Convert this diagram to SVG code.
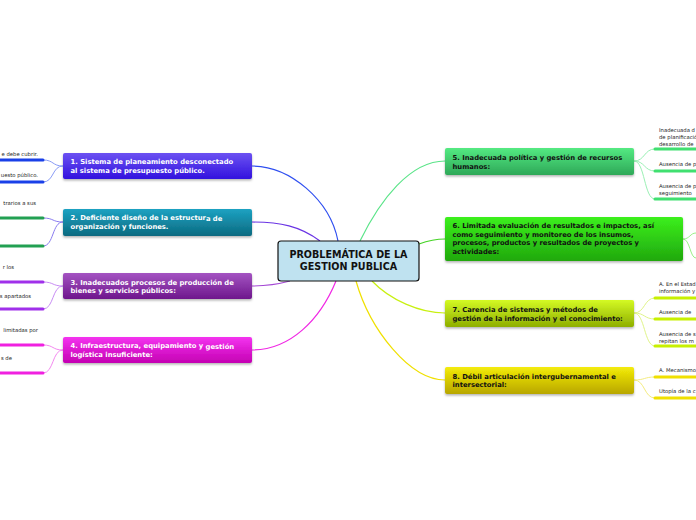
<svg xmlns="http://www.w3.org/2000/svg" width="696" height="520" viewBox="0 0 696 520">
<defs>
<linearGradient id="g1" x1="0" y1="0" x2="0" y2="1"><stop offset="0" stop-color="#6c52f2"/><stop offset="1" stop-color="#3212de"/></linearGradient>
<linearGradient id="g2" x1="0" y1="0" x2="0" y2="1"><stop offset="0" stop-color="#1ca2c2"/><stop offset="1" stop-color="#0c6a80"/></linearGradient>
<linearGradient id="g3" x1="0" y1="0" x2="0" y2="1"><stop offset="0" stop-color="#a454c2"/><stop offset="1" stop-color="#6e168c"/></linearGradient>
<linearGradient id="g4" x1="0" y1="0" x2="0" y2="1"><stop offset="0" stop-color="#f434f0"/><stop offset="1" stop-color="#c400b2"/></linearGradient>
<linearGradient id="g5" x1="0" y1="0" x2="0" y2="1"><stop offset="0" stop-color="#54ea82"/><stop offset="1" stop-color="#2ea858"/></linearGradient>
<linearGradient id="g6" x1="0" y1="0" x2="0" y2="1"><stop offset="0" stop-color="#3cf01c"/><stop offset="1" stop-color="#20a80e"/></linearGradient>
<linearGradient id="g7" x1="0" y1="0" x2="0" y2="1"><stop offset="0" stop-color="#d4fa24"/><stop offset="1" stop-color="#8eae00"/></linearGradient>
<linearGradient id="g8" x1="0" y1="0" x2="0" y2="1"><stop offset="0" stop-color="#f4ec08"/><stop offset="1" stop-color="#b8a600"/></linearGradient>
<filter id="sh" x="-5%" y="-20%" width="110%" height="150%"><feDropShadow dx="0" dy="1.5" stdDeviation="1.2" flood-color="#000" flood-opacity="0.3"/></filter>
</defs>
<style>
.node rect{filter:url(#sh)}
.t{font-family:"DejaVu Sans",Verdana,sans-serif;font-weight:bold;font-size:6.8px}
.w{fill:#ffffff}
.k{fill:#111111}
.c{font-family:"DejaVu Sans",Verdana,sans-serif;font-size:5.3px;fill:#222222}
.cn{fill:none;stroke-width:1}
.ln{fill:none;stroke-width:3;stroke-linecap:round}
.main{fill:none;stroke-width:1.2}
</style>
<rect width="696" height="520" fill="#ffffff"/>
<g id="connectors">
<path class="main" stroke="#2f4ff0" d="M338,241 C330,200 290,166 252,166"/>
<path class="main" stroke="#6a34e4" d="M320,241 C300,226 280,222 252,222"/>
<path class="main" stroke="#a448d4" d="M290,281 C275,285 265,286 252,286"/>
<path class="main" stroke="#f028e4" d="M336,281 C320,320 290,350 252,350"/>
<path class="main" stroke="#5ae488" d="M360,241 C380,200 410,161 445,161"/>
<path class="main" stroke="#44d424" d="M419,244 C430,240 435,239 445,239"/>
<path class="main" stroke="#c8f010" d="M372,281 C390,300 420,313 445,313"/>
<path class="main" stroke="#f0e000" d="M356,281 C370,330 410,380 445,380"/>
<path class="cn" stroke="#8a9cf6" d="M63,166 C52,166 54,160 43,160 M63,166 C52,166 54,182 43,182"/>
<path class="ln" stroke="#1a40e8" d="M0,160 L43,160 M0,182 L43,182"/>
<path class="cn" stroke="#8a7cf0" d="M63,222 C52,222 54,218 43,218 M63,222 C52,222 54,246 43,246"/>
<path class="ln" stroke="#22a052" d="M0,218 L43,218 M0,246 L43,246"/>
<path class="cn" stroke="#c88cf4" d="M63,286 C52,286 54,282 43,282 M63,286 C52,286 54,309 43,309"/>
<path class="ln" stroke="#a030ea" d="M0,282 L43,282 M0,309 L43,309"/>
<path class="cn" stroke="#f488f0" d="M63,350 C52,350 54,345 43,345 M63,350 C52,350 54,373 43,373"/>
<path class="ln" stroke="#f020e0" d="M0,345 L43,345 M0,373 L43,373"/>
<path class="cn" stroke="#9af0b4" d="M634,161 C645,161 644,149 655,149 M634,161 C645,161 644,171 655,171 M634,161 C645,161 644,199 655,199"/>
<path class="ln" stroke="#40e070" d="M655,149 L696,149 M655,171 L696,171 M655,199 L696,199"/>
<path class="cn" stroke="#9af088" d="M683,239 C690,239 690,233 696,233 M683,239 C690,239 690,258 696,258"/>
<path class="cn" stroke="#e0f488" d="M634,313 C645,313 644,298 655,298 M634,313 C645,313 644,319 655,319 M634,313 C645,313 644,346 655,346"/>
<path class="ln" stroke="#c8f000" d="M655,298 L696,298 M655,319 L696,319 M655,346 L696,346"/>
<path class="cn" stroke="#f4ec80" d="M634,380 C645,380 644,377 655,377 M634,380 C645,380 644,398 655,398"/>
<path class="ln" stroke="#f0e000" d="M655,377 L696,377 M655,398 L696,398"/>
</g>
<g id="center">
<rect x="278" y="241" width="141" height="40" rx="3" fill="#bfe2f0" stroke="#111111" stroke-width="1.2"/>
<text x="348.5" y="257.5" text-anchor="middle" font-family="DejaVu Sans, sans-serif" font-weight="bold" font-size="9.6" fill="#111111">PROBLEMÁTICA DE LA</text>
<text x="348.5" y="270" text-anchor="middle" font-family="DejaVu Sans, sans-serif" font-weight="bold" font-size="9.6" fill="#111111">GESTION PUBLICA</text>
</g>
<g id="node1" class="node">
<rect x="63" y="153" width="189" height="26" rx="2" fill="url(#g1)"/>
<text class="t w" x="70.5" y="163.5">1. Sistema de planeamiento descon<tspan dy="0.8">ectado</tspan></text>
<text class="t w" x="70.5" y="172.5">al sistema de presupuesto público.</text>
</g>
<g id="node2" class="node">
<rect x="63" y="209" width="189" height="27" rx="2" fill="url(#g2)"/>
<text class="t w" x="70.5" y="220">2. Deficiente diseño de la estructur<tspan dy="0.8">a de</tspan></text>
<text class="t w" x="70.5" y="229">organización y funciones.</text>
</g>
<g id="node3" class="node">
<rect x="63" y="273" width="189" height="26" rx="2" fill="url(#g3)"/>
<text class="t w" x="70.5" y="284.5">3. Inadecuados procesos de producción  de</text>
<text class="t w" x="70.5" y="293">bienes y servicios públicos:</text>
</g>
<g id="node4" class="node">
<rect x="63" y="337" width="189" height="26" rx="2" fill="url(#g4)"/>
<text class="t w" x="70.5" y="348">4. Infraestructura, equipamiento y <tspan dy="0.8">gestión</tspan></text>
<text class="t w" x="70.5" y="356.5">logística insuficiente:</text>
</g>
<g id="node5" class="node">
<rect x="445" y="148" width="189" height="27" rx="2" fill="url(#g5)"/>
<text class="t k" x="452.5" y="160">5. Inadecuada política y gestión de recursos</text>
<text class="t k" x="452.5" y="169">humanos:</text>
</g>
<g id="node6" class="node">
<rect x="445" y="217" width="238" height="44" rx="2" fill="url(#g6)"/>
<text class="t k" x="452.5" y="228">6. Limitada evaluación de resultados e impactos, así</text>
<text class="t k" x="452.5" y="236.5">como seguimiento y monitoreo de los insumos,</text>
<text class="t k" x="452.5" y="245">procesos, productos y resultados de proyectos y</text>
<text class="t k" x="452.5" y="253.5">actividades:</text>
</g>
<g id="node7" class="node">
<rect x="445" y="300" width="189" height="27" rx="2" fill="url(#g7)"/>
<text class="t k" x="452.5" y="311.5">7. Carencia de sistemas y métodos de</text>
<text class="t k" x="452.5" y="320.5">gestión de la información y el conocimiento:</text>
</g>
<g id="node8" class="node">
<rect x="445" y="367" width="189" height="27" rx="2" fill="url(#g8)"/>
<text class="t k" x="452.5" y="378.5">8. Débil articulación intergubernamental e</text>
<text class="t k" x="452.5" y="387">intersectorial:</text>
</g>
<g id="children">
<text class="c" x="38" y="156" text-anchor="end">e debe cubrir.</text>
<text class="c" x="38" y="177" text-anchor="end">uesto público.</text>
<text class="c" x="36" y="205" text-anchor="end">trarios a sus</text>
<text class="c" x="14" y="269" text-anchor="end">r los</text>
<text class="c" x="31" y="298" text-anchor="end">s apartados</text>
<text class="c" x="38" y="332" text-anchor="end">limitadas por</text>
<text class="c" x="12" y="360" text-anchor="end">s de</text>
<text class="c" x="659" y="132">Inadecuada d</text>
<text class="c" x="659" y="139">de planificació</text>
<text class="c" x="659" y="146">desarrollo de</text>
<text class="c" x="659" y="166">Ausencia de p</text>
<text class="c" x="659" y="188">Ausencia de p</text>
<text class="c" x="659" y="195">seguimiento</text>
<text class="c" x="659" y="286">A. En el Estad</text>
<text class="c" x="659" y="293">información y</text>
<text class="c" x="659" y="314">Ausencia de</text>
<text class="c" x="659" y="336">Ausencia de s</text>
<text class="c" x="659" y="343">repitan los m</text>
<text class="c" x="659" y="372">A. Mecanismo</text>
<text class="c" x="659" y="393">Utopía de la c</text>
</g>
</svg>
